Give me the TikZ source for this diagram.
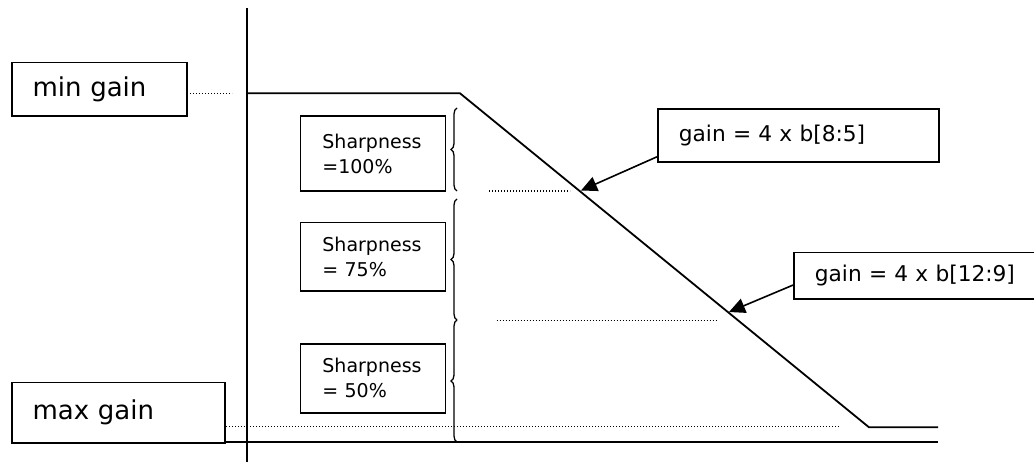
\documentclass[tikz,border=0pt]{standalone}
\usepackage{fontspec}
\setmainfont{DejaVu Sans}
\usetikzlibrary{arrows.meta,decorations.pathreplacing}
\tikzset{
  gainbox/.style={draw,line width=1.8pt,anchor=north west,inner xsep=21pt,inner ysep=0pt,align=left,font=\fontsize{26}{30}\selectfont},
  sharpbox/.style={draw,line width=1.8pt,anchor=north west,inner xsep=22pt,inner ysep=0pt,align=left,text width=101pt,font=\fontsize{19}{25}\selectfont},
  formbox/.style={draw,line width=1.8pt,anchor=north west,inner xsep=21pt,inner ysep=0pt,align=left,font=\fontsize{21.7}{26}\selectfont},
  dotline/.style={line width=1.1pt,dash pattern=on 1pt off 2pt},
  curve/.style={line width=1.8pt},
  sbrace/.style={line width=1.3pt,decorate,decoration={brace,amplitude=6pt}},
  pointer/.style={line width=1.6pt,-{Triangle[length=16pt,width=15pt]}}
}
\begin{document}
\begin{tikzpicture}[x=1pt,y=-1pt]
    \useasboundingbox (0,0) rectangle (1034,462);
    % axes
    \draw[curve] (246.7,8.3) -- (246.7,462);
    \draw[curve] (224,442) -- (938,442);
    % gain curve
    \draw[curve] (246.7,93.3) -- (460,93.3) -- (869,427.3) -- (938,427.3);
    % levels
    \node[gainbox,text width=133pt,minimum height=53.3pt] (mingain) at (10.7,61.7) {min gain};
    \node[gainbox,text width=171pt,minimum height=60.3pt] (maxgain) at (10.7,381.7) {max gain};
    \draw[dotline] (187,93.3) -- (232,93.3);
    \draw[dotline] (226,426.7) -- (839,426.7);
    \draw[dotline] (489,191) -- (570,191);
    \draw[dotline] (496.7,320.7) -- (718,320.7);
    % sharpness
    \node[sharpbox,minimum height=75.5pt] (s100) at (299.5,115) {Sharpness\\=100\%};
    \node[sharpbox,minimum height=68.3pt] (s75) at (299.5,221.7) {Sharpness\\= 75\%};
    \node[sharpbox,minimum height=68.4pt] (s50) at (299.5,343.3) {Sharpness\\= 50\%};
    \draw[sbrace] (457,191) -- (457,108);
    \draw[sbrace] (457,320) -- (457,199);
    \draw[sbrace] (457,442) -- (457,320);
    % slopes
    \node[formbox,text width=239pt,minimum height=53pt] (f1) at (657,108) {gain = 4 x b[8:5]};
    \node[formbox,text width=205pt,minimum height=46.6pt] (f2) at (793,251.7) {gain = 4 x b[12:9]};
    \coordinate (t1) at (581,190.5);
    \coordinate (t2) at (729,312);
    \draw[pointer] ([yshift=6pt]f1.south west) -- (t1);
    \draw[pointer] ([yshift=15pt]f2.south west) -- (t2);
\end{tikzpicture}
\end{document}
